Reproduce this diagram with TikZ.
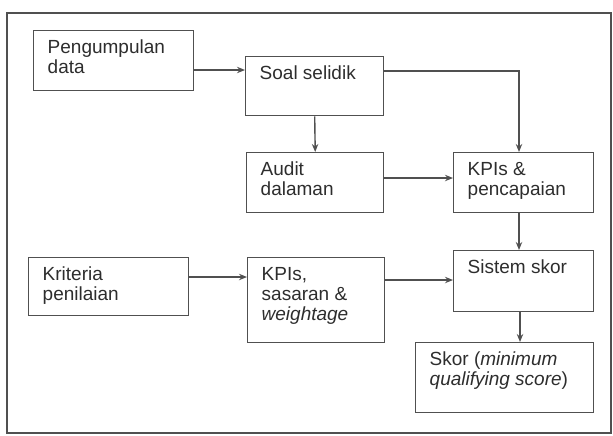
\documentclass[tikz,border=0pt]{standalone}
\usepackage{fontspec}
\setmainfont{Liberation Sans}
\usepackage{xcolor}
\usetikzlibrary{positioning, arrows.meta}
\definecolor{garis}{RGB}{80,80,80}
\definecolor{tulisan}{RGB}{45,45,45}
\newcommand{\isi}[3]{\parbox[t][#2][t]{#1}{\rule{0pt}{11.5pt}#3}}

\begin{document}
\begin{tikzpicture}[x=0.5pt, y=-0.5pt,
	kotak/.style={draw=garis, line width=0.7pt, inner xsep=7pt, inner ysep=0pt, anchor=north west, text=tulisan, font=\fontsize{9.5}{10}\selectfont},
	panah/.style={draw=garis, line width=0.7pt, -{Stealth[length=4pt, width=3.2pt]}}]
	\useasboundingbox (0,0) rectangle (613,435);
	\draw[garis, line width=1.1pt] (7,13) rectangle (611,433);
	% kotak %
	\node[kotak] (peng) at (33,30) {\isi{66pt}{30pt}{Pengumpulan\\data}};
	\node[kotak] (soal) at (245,56) {\isi{55pt}{29.5pt}{Soal selidik}};
	\node[kotak] (audit) at (246,152) {\isi{54.5pt}{30pt}{Audit\\dalaman}};
	\node[kotak] (kpi1) at (453,152) {\isi{56pt}{30pt}{KPIs \&\\pencapaian}};
	\node[kotak] (krit) at (28,257) {\isi{66pt}{29pt}{Kriteria\\penilaian}};
	\node[kotak] (kpi2) at (247,257) {\isi{54.5pt}{42.5pt}{KPIs,\\sasaran \&\\\textit{weightage}}};
	\node[kotak] (sistem) at (453,250) {\isi{56pt}{30.5pt}{Sistem skor}};
	\node[kotak] (skor) at (415,342) {\isi{75pt}{35pt}{Skor (\textit{minimum}\\\textit{qualifying score})}};
	% sambungan %
	\draw[panah] (peng.east |- 0,70) -- (soal.west |- 0,70);
	\draw[panah] (soal.south) -- (audit.north);
	\draw[panah] (soal.east |- 0,71) -| (kpi1.north -| 519,0);
	\draw[panah] (audit.east |- 0,178) -- (kpi1.west |- 0,178);
	\draw[panah] (kpi1.south -| 519,0) -- (sistem.north -| 519,0);
	\draw[panah] (krit.east |- 0,277) -- (kpi2.west |- 0,277);
	\draw[panah] (kpi2.east |- 0,280) -- (sistem.west |- 0,280);
	\draw[panah] (sistem.south -| 520,0) -- (skor.north -| 520,0);
\end{tikzpicture}
\end{document}
